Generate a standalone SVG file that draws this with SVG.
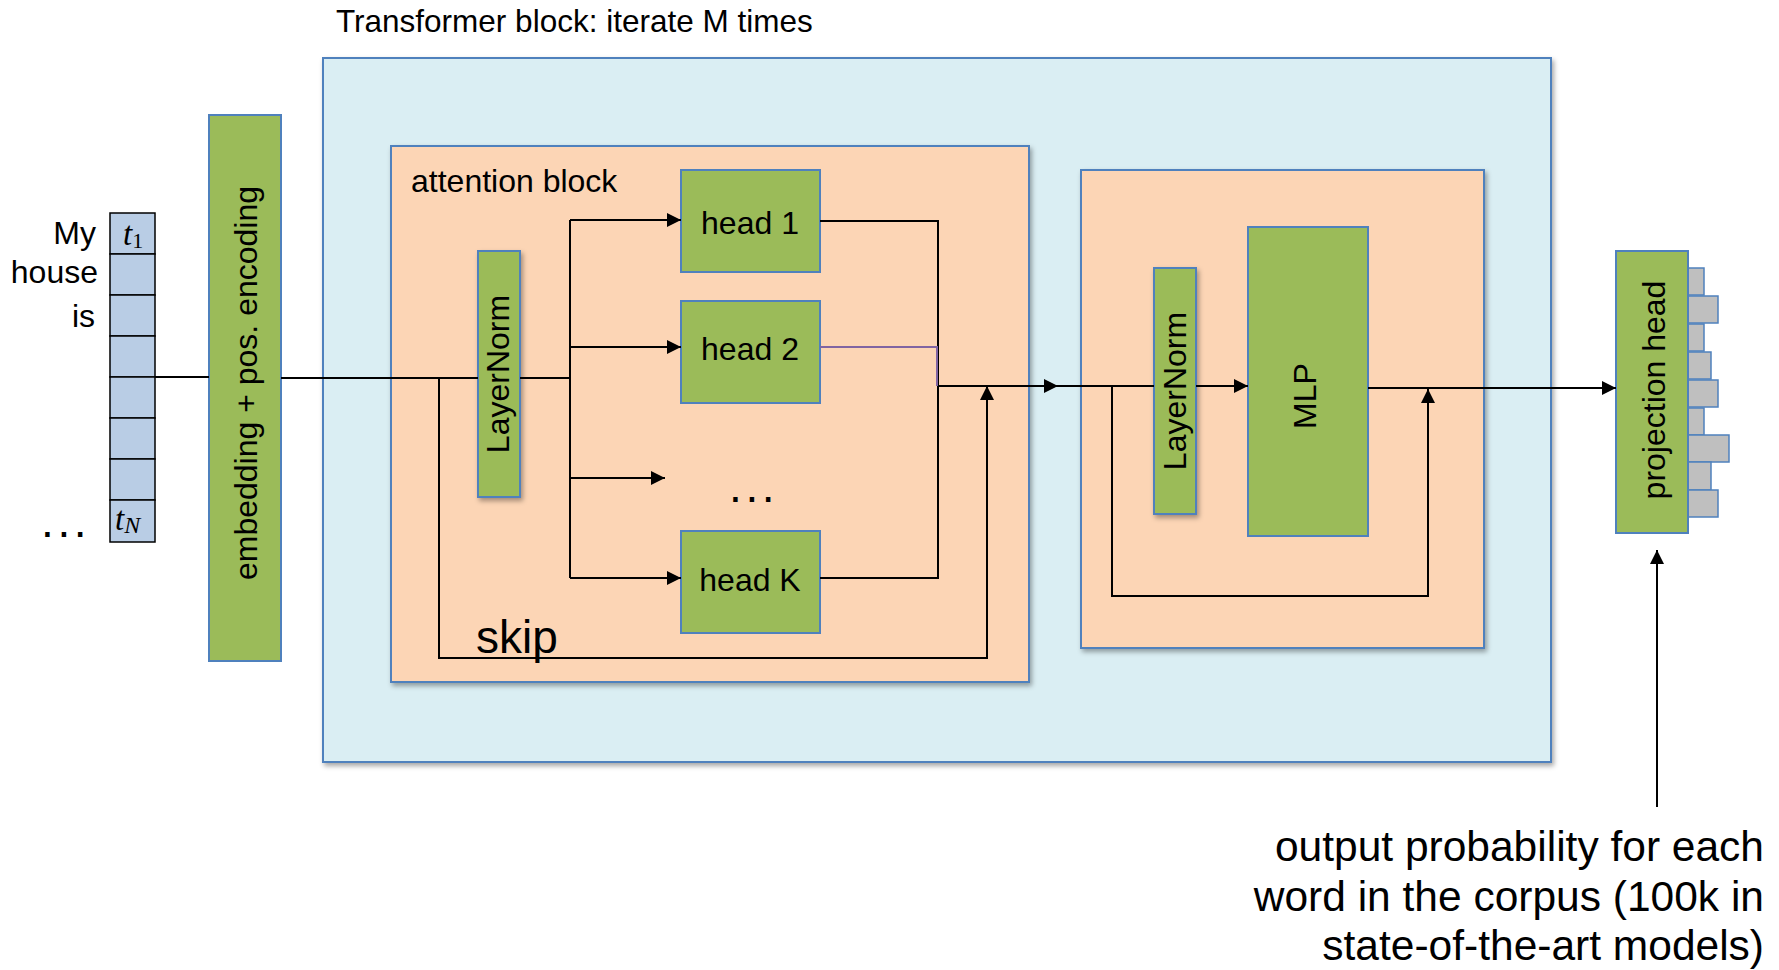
<svg xmlns="http://www.w3.org/2000/svg" width="1779" height="970" viewBox="0 0 1779 970">
  <style>
    text { font-family: "Liberation Sans", Arial, sans-serif; fill: #000; }
    .lbl { font-size: 32px; }
    .mid { text-anchor: middle; }
    .end { text-anchor: end; }
    .outer { fill: #DAEEF3; stroke: #4F81BD; stroke-width: 2; }
    .block { fill: #FCD5B5; stroke: #4F81BD; stroke-width: 2; }
    .green { fill: #9BBB59; stroke: #4F81BD; stroke-width: 2; }
    .tok { fill: #B9CDE5; stroke: #000; stroke-width: 1.5; }
    .bar { fill: #BFBFBF; stroke: #4F81BD; stroke-width: 1.5; }
    .ln { fill: none; stroke: #000; stroke-width: 2; }
    .math { font-family: "Liberation Serif", "Times New Roman", serif; font-style: italic; }
  </style>
  <defs>
    <filter id="shadow" x="-10%" y="-10%" width="130%" height="130%">
      <feDropShadow dx="2" dy="3" stdDeviation="2.5" flood-color="#000" flood-opacity="0.35"/>
    </filter>
    <marker id="arr" viewBox="0 0 10 10" refX="10" refY="5" markerWidth="17" markerHeight="14" markerUnits="userSpaceOnUse" orient="auto">
      <path d="M0,0 L10,5 L0,10 z" fill="#000"/>
    </marker>
  </defs>

  <!-- input tokens -->
  <g id="tokens">
    <rect class="tok" x="110" y="213" width="45" height="41"/>
    <rect class="tok" x="110" y="254" width="45" height="41"/>
    <rect class="tok" x="110" y="295" width="45" height="41"/>
    <rect class="tok" x="110" y="336" width="45" height="41"/>
    <rect class="tok" x="110" y="377" width="45" height="41"/>
    <rect class="tok" x="110" y="418" width="45" height="41"/>
    <rect class="tok" x="110" y="459" width="45" height="41"/>
    <rect class="tok" x="110" y="500" width="45" height="42"/>
    <text class="math" x="123" y="245" font-size="33">t<tspan font-style="normal" font-size="22" dy="3">1</tspan></text>
    <text class="math" x="115" y="530" font-size="33">t<tspan font-size="24" dy="3">N</tspan></text>
  </g>
  <g id="words">
    <text class="lbl end" x="96" y="244">My</text>
    <text class="lbl end" x="98" y="283">house</text>
    <text class="lbl end" x="95" y="327">is</text>
    <text x="41" y="537" font-size="46" letter-spacing="3.6">...</text>
  </g>

  <!-- embedding -->
  <g id="embedding">
    <rect class="green" x="209" y="115" width="72" height="546"/>
    <text class="lbl mid" transform="translate(257,383) rotate(-90)">embedding + pos. encoding</text>
  </g>

  <!-- transformer block -->
  <g id="transformer">
    <rect class="outer" x="323" y="58" width="1228" height="704" filter="url(#shadow)"/>
    <text x="336" y="32" font-size="31.5">Transformer block: iterate M times</text>
  </g>

  <g id="attention">
    <rect class="block" x="391" y="146" width="638" height="536" filter="url(#shadow)"/>
    <text class="lbl" x="411" y="192">attention block</text>
    <text x="476" y="653" font-size="46">skip</text>
    <text x="729" y="502" font-size="46" letter-spacing="3.6">...</text>
  </g>
  <g id="layernorm1">
    <rect class="green" x="478" y="251" width="42" height="246" filter="url(#shadow)"/>
    <text class="lbl mid" transform="translate(509,374) rotate(-90)">LayerNorm</text>
  </g>
  <g id="head1">
    <rect class="green" x="681" y="170" width="139" height="102"/>
    <text class="lbl mid" x="750" y="234">head 1</text>
  </g>
  <g id="head2">
    <rect class="green" x="681" y="301" width="139" height="102"/>
    <text class="lbl mid" x="750" y="360">head 2</text>
  </g>
  <g id="headK">
    <rect class="green" x="681" y="531" width="139" height="102"/>
    <text class="lbl mid" x="750" y="591">head K</text>
  </g>

  <g id="feedforward">
    <rect class="block" x="1081" y="170" width="403" height="478" filter="url(#shadow)"/>
  </g>
  <g id="layernorm2">
    <rect class="green" x="1154" y="268" width="42" height="246" filter="url(#shadow)"/>
    <text class="lbl mid" transform="translate(1186,391) rotate(-90)">LayerNorm</text>
  </g>
  <g id="mlp">
    <rect class="green" x="1248" y="227" width="120" height="309"/>
    <text class="lbl mid" transform="translate(1316,396) rotate(-90)">MLP</text>
  </g>

  <!-- output head -->
  <g id="projection">
    <rect class="bar" x="1688" y="268" width="16" height="27"/>
    <rect class="bar" x="1688" y="296" width="30" height="27"/>
    <rect class="bar" x="1688" y="324" width="16" height="27"/>
    <rect class="bar" x="1688" y="352" width="23" height="27"/>
    <rect class="bar" x="1688" y="380" width="30" height="27"/>
    <rect class="bar" x="1688" y="408" width="16" height="27"/>
    <rect class="bar" x="1688" y="435" width="41" height="27"/>
    <rect class="bar" x="1688" y="462" width="23" height="28"/>
    <rect class="bar" x="1688" y="490" width="30" height="27"/>
    <rect class="green" x="1616" y="251" width="72" height="282"/>
    <text class="lbl mid" transform="translate(1665,390) rotate(-90)">projection head</text>
  </g>
  <g id="output-note">
    <text class="end" x="1764" y="861" font-size="42.5">output probability for each</text>
    <text class="end" x="1764" y="911" font-size="42.5">word in the corpus (100k in</text>
    <text class="end" x="1764" y="960" font-size="42.5">state-of-the-art models)</text>
  </g>

  <!-- connectors -->
  <g id="connectors">
    <path class="ln" d="M155,377 H209"/>
    <path class="ln" d="M281,378 H478"/>
    <path class="ln" d="M520,378 H570" stroke-width="3"/>
    <path class="ln" d="M570,220 V578"/>
    <path class="ln" d="M570,347 V478" stroke-width="3"/>
    <path class="ln" d="M570,220 H681" marker-end="url(#arr)"/>
    <path class="ln" d="M570,347 H681" marker-end="url(#arr)"/>
    <path class="ln" d="M570,478 H665" marker-end="url(#arr)"/>
    <path class="ln" d="M570,578 H681" marker-end="url(#arr)"/>
    <path class="ln" d="M820,221 H938 V578 H820"/>
    <path d="M820,347 H937 V386" fill="none" stroke="#8064A2" stroke-width="2"/>
    <path class="ln" d="M938,386 H1058" marker-end="url(#arr)"/>
    <path class="ln" d="M1058,386 H1154"/>
    <path class="ln" d="M439,378 V658 H987 V386" marker-end="url(#arr)"/>
    <path class="ln" d="M1196,386 H1248" marker-end="url(#arr)"/>
    <path class="ln" d="M1112,386 V596 H1428 V389" marker-end="url(#arr)"/>
    <path class="ln" d="M1368,388 H1616" marker-end="url(#arr)"/>
    <path class="ln" d="M1657,807 V550" marker-end="url(#arr)"/>
  </g>
</svg>
